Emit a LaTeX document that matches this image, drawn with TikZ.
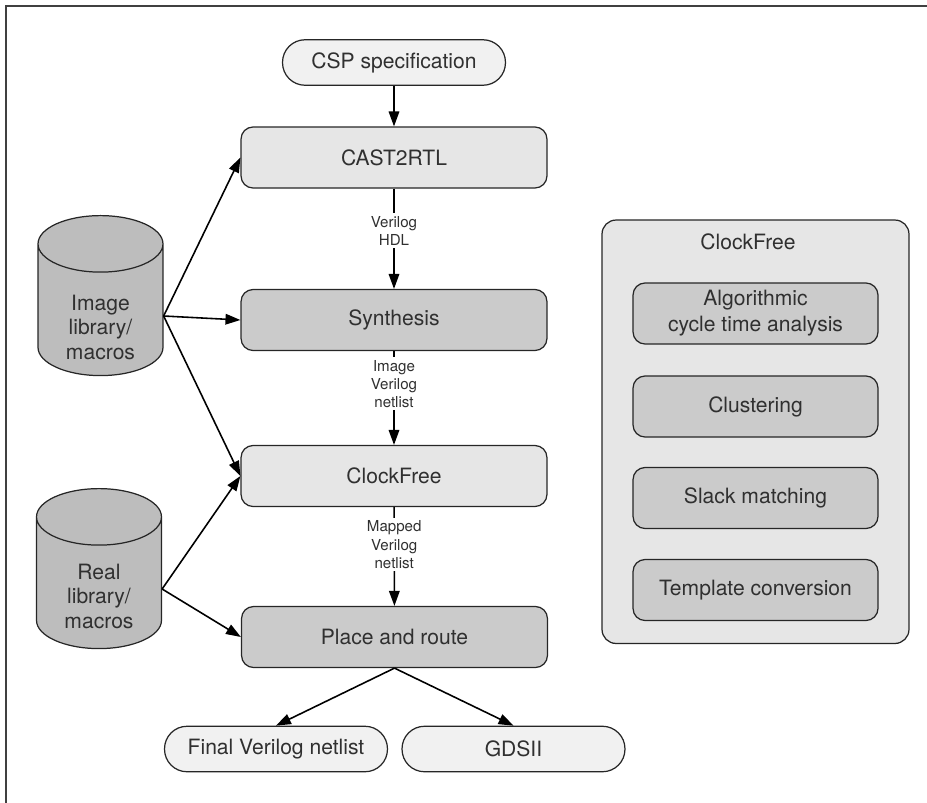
\documentclass[tikz,border=0pt]{standalone}
\usepackage{fontspec}
\setmainfont{TeX Gyre Heros}
\usetikzlibrary{shapes.geometric,arrows.meta}
\definecolor{txtgray}{HTML}{303030}
\definecolor{palefill}{HTML}{F1F1F1}
\definecolor{lightfill}{HTML}{E6E6E6}
\definecolor{midfill}{HTML}{CBCBCB}
\definecolor{darkfill}{HTML}{BDBDBD}
\newcommand{\libtext}[2]{\raisebox{-#1}[\height][\depth]{\begin{tabular}{@{}c@{}}#2\end{tabular}}}
\begin{document}
\begin{tikzpicture}[x=0.02cm, y=-0.02cm,
    every node/.style={text=txtgray, font=\fontsize{12}{14.8}\selectfont},
    box/.style={draw=black!85, rounded corners=0.24cm, line width=0.7pt,
        minimum width=6.12cm, minimum height=1.22cm, align=center},
    pill/.style={draw=black!85, fill=palefill, rounded corners=0.45cm, line width=0.7pt,
        minimum width=4.46cm, minimum height=0.91cm},
    lib/.style={draw=black!85, fill=darkfill, cylinder, shape border rotate=90,
        aspect=0.7, line width=0.7pt, minimum width=2.5cm, minimum height=2.42cm,
        font=\fontsize{12}{14.2}\selectfont},
    lbl/.style={fill=white, align=center, inner sep=1.5pt,
        font=\fontsize{8.6}{10.4}\selectfont},
    arr/.style={-{Triangle[length=8.5pt,width=6pt]}, line width=0.9pt}]
    \useasboundingbox (0,0) rectangle (927,802);
    \draw[line width=1.2pt, black!75] (6,815) -- (6,6) -- (940,6);

    % main flow
    \node[pill] (csp) at (394,62.5) {CSP specification};
    \node[box, fill=lightfill] (cast) at (394,157.5) {CAST2RTL};
    \node[box, fill=midfill] (synth) at (394,320) {Synthesis};
    \node[box, fill=lightfill] (cfree) at (394,476) {ClockFree};
    \node[box, fill=midfill] (pnr) at (394.5,637) {Place and route};
    \node[pill] (finalnet) at (276,749) {Final Verilog netlist};
    \node[pill] (gds) at (513.5,749) {GDSII};
    \node[lib] (imglib) at (100.5,316) {\libtext{0.28cm}{Image\\library/\\macros}};
    \node[lib] (reallib) at (99,589) {\libtext{0.2cm}{Real\\library/\\macros}};

    \draw[arr] (csp) -- (cast);
    \draw[arr] (cast) -- node[pos=.42, lbl] {Verilog\\HDL} (synth);
    \draw[arr] (synth) -- node[pos=.35, lbl] {Image\\Verilog\\netlist} (cfree);
    \draw[arr] (cfree) -- node[pos=.38, lbl] {Mapped\\Verilog\\netlist} (pnr);
    \draw[arr] (imglib.east) -- (cast.west);
    \draw[arr] (imglib.east) -- (synth.west);
    \draw[arr] (imglib.east) -- (cfree.west);
    \draw[arr] (reallib.east) -- (cfree.west);
    \draw[arr] (reallib.east) -- (pnr.west);
    \draw[arr] (pnr.south) -- (finalnet.north);
    \draw[arr] (pnr.south) -- (gds.north);

    % ClockFree steps
    \node[draw=black!85, fill=lightfill, rounded corners=0.28cm, line width=0.7pt,
        minimum width=6.14cm, minimum height=8.47cm] (panel) at (755.5,431.75) {};
    \node (paneltitle) at (748,242) {ClockFree};
    \foreach \y/\t [count=\i] in {313.5/{Algorithmic\\cycle time analysis},
        406.5/Clustering, 498/Slack matching, 590/Template conversion}
        \node[box, fill=midfill, minimum width=4.9cm] (task\i) at (755.5,\y) {\t};
\end{tikzpicture}
\end{document}
